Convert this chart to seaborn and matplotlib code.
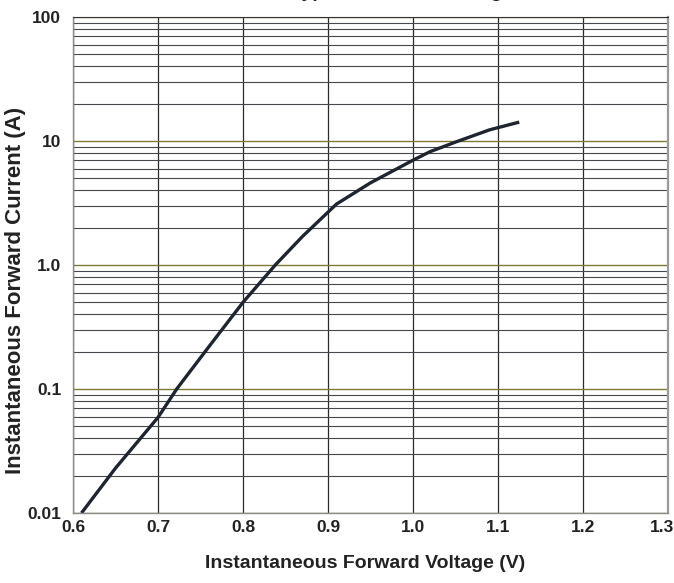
import numpy as np
import pandas as pd
import seaborn as sns
import matplotlib.pyplot as plt
import matplotlib.transforms as mtrans
from matplotlib.ticker import FixedLocator, LogLocator, NullFormatter

# data
forward_voltage = [0.61, 0.65, 0.70, 0.722, 0.76, 0.80, 0.838, 0.87, 0.91, 0.95, 1.00, 1.02, 1.05, 1.09, 1.125]
forward_current = [0.01, 0.023, 0.059, 0.1, 0.22, 0.5, 1.0, 1.7, 3.1, 4.6, 7.0, 8.2, 9.8, 12.3, 14.2]

x_ticks = [0.6, 0.7, 0.8, 0.9, 1.0, 1.1, 1.2, 1.3]
x_tick_labels = ["0.6", "0.7", "0.8", "0.9", "1.0", "1.1", "1.2", "1.3"]
y_ticks = [0.01, 0.1, 1.0, 10, 100]
y_tick_labels = ["0.01", "0.1", "1.0", "10", "100"]

sns.set_style("white")
plt.rcParams["font.family"] = ["Liberation Sans", "DejaVu Sans"]
plt.rcParams["font.weight"] = "bold"

df = pd.DataFrame({"vf": forward_voltage, "if": forward_current})

fig = plt.figure(figsize=(6.74, 5.83), dpi=100)
ax = fig.add_axes([73 / 674, 1 - 513 / 583, 595 / 674, 496 / 583])

sns.lineplot(data=df, x="vf", y="if", color="#1f2530", linewidth=2.4,
             solid_capstyle="butt", ax=ax)

ax.set_yscale("log")
ax.set_xlim(0.6, 1.3)
ax.set_ylim(0.01, 100)

# grid: dark vertical lines, olive decade lines, dark minor lines
ax.xaxis.set_major_locator(FixedLocator(x_ticks))
ax.set_xticklabels(x_tick_labels)
ax.yaxis.set_major_locator(FixedLocator(y_ticks))
ax.set_yticklabels(y_tick_labels)
ax.yaxis.set_minor_locator(LogLocator(base=10, subs=np.arange(2, 10)))
ax.yaxis.set_minor_formatter(NullFormatter())

ax.grid(True, which="major", axis="x", color="#2a2a2a", linewidth=0.9)
ax.grid(True, which="major", axis="y", color="#7d7a35", linewidth=1.0)
ax.grid(True, which="minor", axis="y", color="#45484d", linewidth=0.8)
ax.set_axisbelow(True)

ax.tick_params(axis="x", which="both", length=0, labelsize=12.5, pad=5)
ax.tick_params(axis="y", which="both", length=0, labelsize=12.5, pad=8.5)
for lab in ax.get_xticklabels() + ax.get_yticklabels():
    lab.set_fontweight("bold")
    lab.set_color("#222222")
# last x label sits against the figure edge in the original
last = ax.get_xticklabels()[-1]
last.set_horizontalalignment("right")
last.set_transform(last.get_transform() + mtrans.ScaledTranslation(6 / 100, 0, fig.dpi_scale_trans))

for side in ["left", "bottom"]:
    ax.spines[side].set_color("#8a8a8a")
    ax.spines[side].set_linewidth(1.0)
ax.spines["top"].set_color("#333333")
ax.spines["right"].set_color("#9a9a9a")
ax.spines["right"].set_linewidth(1.6)

ax.set_xlabel("")
ax.set_ylabel("")
fig.text(365 / 674, 1 - 563 / 583, "Instantaneous Forward Voltage (V)", ha="center", va="center",
         fontsize=14, fontweight="bold", color="#222222")
fig.text(16 / 674, 1 - 290 / 583, "Instantaneous Forward Current (A)", ha="center", va="center",
         rotation=90, fontsize=16, fontweight="bold", color="#222222")

# title is cut off at the top of the original scan
fig.text(0.597, 1.0 + 3 / 583, "Typical Forward Voltage", ha="center", va="baseline",
         fontsize=14, fontweight="bold", color="#222222")

fig.savefig("out.png", dpi=100)
